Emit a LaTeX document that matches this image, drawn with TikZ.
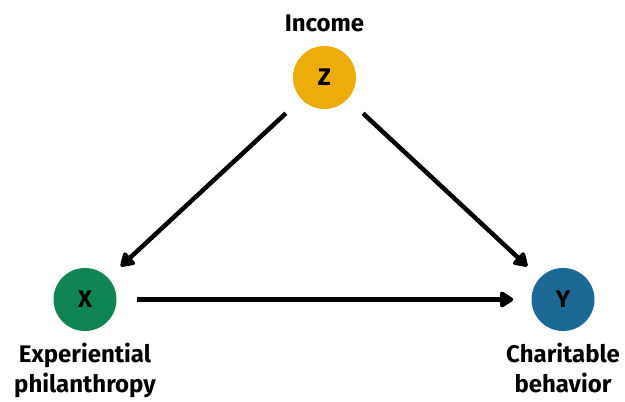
\documentclass[tikz,border=0pt]{standalone}
\usepackage{fontspec}
\setmainfont{Fira Sans}
\usetikzlibrary{arrows.meta}
\definecolor{cz}{HTML}{EDAD08}
\definecolor{cx}{HTML}{0F8554}
\definecolor{cy}{HTML}{1D6996}
\tikzset{
  dagnode/.style={circle, minimum size=63pt, inner sep=0pt, font=\fontsize{24}{29}\selectfont\bfseries},
  lbl/.style={align=center, font=\fontsize{24}{30}\selectfont\bfseries, inner sep=0pt},
  arr/.style={line width=4.5pt, -{Triangle[length=15pt,width=18pt,round]}},
}
\begin{document}
\begin{tikzpicture}[x=1pt,y=1pt]
\useasboundingbox (0,0) rectangle (625,402);
\node[dagnode, fill=cz] (z) at (324.5,324.5) {Z};
\node[dagnode, fill=cx] (x) at (85,102.5) {X};
\node[dagnode, fill=cy] (y) at (563,102.5) {Y};
\node[lbl, anchor=base] (lz) at (324.5,370.5) {Income};
\node[lbl, anchor=base] (lx) at (85,9) {Experiential\\philanthropy};
\node[lbl, anchor=base] (ly) at (563,9) {Charitable\\behavior};
\draw[arr, shorten <=21pt, shorten >=17pt] (z) -- (x);
\draw[arr, shorten <=21pt, shorten >=17pt] (z) -- (y);
\draw[arr, shorten <=20pt, shorten >=18pt] (x) -- (y);
\end{tikzpicture}
\end{document}
